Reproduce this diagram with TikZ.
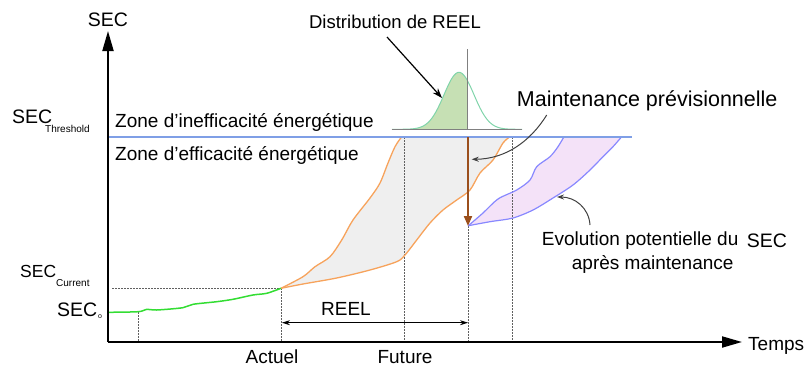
\documentclass[tikz,border=0pt]{standalone}
\usepackage{fontspec}
\setmainfont{Liberation Sans}
\usetikzlibrary{arrows.meta}
\definecolor{orangec}{HTML}{F7A35C}
\definecolor{greyfill}{HTML}{EFEFEF}
\definecolor{thblue}{HTML}{7F9FE6}
\definecolor{greenc}{HTML}{33DD33}
\definecolor{bellfill}{HTML}{C6E0B4}
\definecolor{bellline}{HTML}{80D4AA}
\definecolor{purfill}{HTML}{F4E2F8}
\definecolor{purline}{HTML}{8888FF}
\definecolor{brownc}{HTML}{9B4F1C}
\definecolor{dashc}{HTML}{606060}
\begin{document}
\begin{tikzpicture}[x=1pt,y=-1pt,
  lbl/.style={font=\fontsize{19}{19}\selectfont, inner sep=0pt, anchor=base west},
  seclbl/.style={font=\fontsize{19.5}{19.5}\selectfont, inner sep=0pt, anchor=base west},
  sublbl/.style={font=\fontsize{10}{10}\selectfont, inner sep=0pt, anchor=base west},
  axis/.style={line width=2pt, -{Triangle[length=20pt,width=11pt]}},
  guide/.style={dashc, line width=0.7pt, dash pattern=on 1.6pt off 1.4pt},
  orangeline/.style={orangec, line width=1.3pt},
  purpleline/.style={purline, line width=1.2pt},
  pointer/.style={black!75, line width=1pt, -{Stealth[length=7pt,width=5pt]}}]
\useasboundingbox (0,0) rectangle (809,367);

% key coordinates
\coordinate (O) at (108,342);
\coordinate (ytip) at (108,31);
\coordinate (xtip) at (742,342);
\coordinate (thL) at (108,137);
\coordinate (thR) at (632,137);
\coordinate (cur) at (281,288.3);
\coordinate (curL) at (112,288.3);
\coordinate (curB) at (281,342);
\coordinate (s0) at (138,312);
\coordinate (s0B) at (138,342);
\coordinate (futT) at (404,137);
\coordinate (futB) at (404,342);
\coordinate (mT) at (468,137);
\coordinate (mA) at (468,226);
\coordinate (mB) at (468,342);
\coordinate (lateT) at (512.3,137);
\coordinate (lateB) at (512.3,342);
\coordinate (reelL) at (282,322.7);
\coordinate (reelR) at (468,322.7);
\coordinate (distT) at (467.7,49);
\coordinate (distB) at (467.7,129.3);
\coordinate (baseL) at (391.7,129.3);
\coordinate (baseR) at (521.7,129.3);

% grey region between orange curves
\fill[greyfill] plot[smooth] coordinates {(281,288.3) (303,276.7) (315,266.7) (330,256.7) (341.7,240) (353,220) (370,198) (380,183) (388,163) (395,146.7) (401.7,136.7)}
  -- (510,136.7) -- plot[smooth] coordinates {(510,136.7) (503,143) (493,160) (480,173) (470,190) (456.7,200) (443,210) (430,223) (416.7,240) (405,255) (396.7,261.7) (370,270) (336.7,278) (303,284) (281,288.3)} -- cycle;

% purple region
\fill[purfill] plot[smooth] coordinates {(468.3,225.7) (483,213) (498,199) (516.7,190) (530,180) (536.7,166.7) (550,156.7) (558,146.7) (564,136.7)}
  -- (621.7,136.7) -- plot[smooth] coordinates {(621.7,136.7) (613,146.7) (603,156.7) (590,170) (573,185) (553,198) (533,210) (513,218) (490,221.7) (468.3,225.7)} -- cycle;

% guide lines
\draw[guide] (curL) -- (cur);
\draw[guide] (s0) -- (s0B);
\draw[guide] (cur) -- (curB);
\draw[guide] (futT) -- (futB);
\draw[guide] (mA) -- (mB);
\draw[guide] (lateT) -- (lateB);

% orange curves
\draw[orangeline] plot[smooth] coordinates {(281,288.3) (303,276.7) (315,266.7) (330,256.7) (341.7,240) (353,220) (370,198) (380,183) (388,163) (395,146.7) (401.7,136.7)};
\draw[orangeline] plot[smooth] coordinates {(281,288.3) (303,284) (336.7,278) (370,270) (396.7,261.7) (405,255) (416.7,240) (430,223) (443,210) (456.7,200) (470,190) (480,173) (493,160) (503,143) (510,136.7)};

% purple curves
\draw[purpleline] plot[smooth] coordinates {(468.3,225.7) (483,213) (498,199) (516.7,190) (530,180) (536.7,166.7) (550,156.7) (558,146.7) (564,136.7)};
\draw[purpleline] plot[smooth] coordinates {(468.3,225.7) (490,221.7) (513,218) (533,210) (553,198) (573,185) (590,170) (603,156.7) (613,146.7) (621.7,136.7)};

% green line
\draw[greenc, line width=1.5pt] plot[smooth] coordinates {(108,312.3) (138.3,311.7) (146.7,309.3) (156.7,310) (183,307.7) (193,304.3) (216.7,301.7) (233,299.3) (253,295) (266.7,293.3) (281,288.3)};

% threshold line
\draw[thblue, line width=1.8pt] (thL) -- (thR);

% distribution
\fill[bellfill] plot[domain=392:467.7, samples=60] (\x, {129.3-57*exp(-((\x-459)^2)/450)}) -- (distB) -- (baseL) -- cycle;
\draw[bellline, line width=1pt] plot[domain=392:522, samples=100] (\x, {129.3-57*exp(-((\x-459)^2)/450)});
\draw[gray, line width=1pt] (baseL) -- (baseR);
\draw[gray, line width=1pt] (distT) -- (distB);

% maintenance arrow
\draw[brownc, line width=2pt, -{Triangle[length=10pt,width=8pt]}] (mT) -- (mA);

% axes
\draw[axis] (O) -- (ytip);
\draw[axis] (O) -- (xtip);

% REEL arrow
\draw[black, line width=0.8pt, {Stealth[length=8pt,width=5pt]}-{Stealth[length=8pt,width=5pt]}] (reelL) -- (reelR);

% labels
\node[font=\fontsize{19.5}{19.5}\selectfont, inner sep=0pt, anchor=base] (secax) at (108,26) {SEC};
\node[lbl] (zin) at (115,127.7) {Zone d’inefficacité énergétique};
\node[lbl] (zef) at (115,160) {Zone d’efficacité énergétique};
\node[seclbl] (secth) at (12,123.3) {SEC};
\node[sublbl] (secthsub) at (45,132) {Threshold};
\node[seclbl, font=\fontsize{17.5}{17.5}\selectfont] (seccur) at (20,277.7) {SEC};
\node[sublbl] (seccursub) at (56,286) {Current};
\node[seclbl] (seco) at (57,316.7) {SEC};
\node[sublbl, font=\fontsize{7}{7}\selectfont] (secosub) at (98,318) {o};
\node[lbl, anchor=base] (reel) at (346,315) {REEL};
\node[lbl, anchor=base] (actuel) at (272,363) {Actuel};
\node[lbl, anchor=base] (future) at (405,363) {Future};
\node[lbl] (temps) at (748,350.7) {Temps};
\node[lbl, anchor=base, font=\fontsize{18.5}{18.5}\selectfont] (dist) at (395,28) {Distribution de REEL};
\node[lbl, font=\fontsize{21.5}{21.5}\selectfont] (maint) at (516.7,106) {Maintenance prévisionnelle};
\node[lbl] (evo) at (541.7,245.7) {Evolution potentielle du};
\node[seclbl] (evosec) at (746.7,247.7) {SEC};
\node[lbl] (apres) at (571.7,269.3) {après maintenance};

% pointers
\coordinate (distS) at (387,37);
\coordinate (distE) at (442,98);
\draw[black, line width=1.2pt, -{Stealth[length=10pt,width=7pt]}] (distS) -- (distE);
\coordinate (maintS) at (546.7,115);
\coordinate (maintE) at (471.7,159.3);
\draw[pointer] (maintS) .. controls (530,142) and (505,159) .. (maintE);
\coordinate (evoS) at (590,225);
\coordinate (evoE) at (557,197);
\draw[pointer] (evoS) .. controls (589,208) and (575,197) .. (evoE);
\end{tikzpicture}
\end{document}
